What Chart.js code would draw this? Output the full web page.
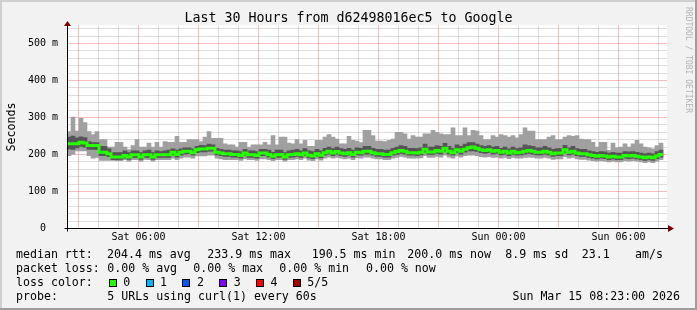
<!DOCTYPE html>
<html>
<head>
<meta charset="utf-8">
<script src="https://cdn.jsdelivr.net/npm/chart.js@4.4.1/dist/chart.umd.min.js"></script>
<style>
  html, body { margin: 0; padding: 0; background: #f2f2f2; }
  #wrap { position: relative; width: 697px; height: 310px; overflow: hidden;
          font-family: "DejaVu Sans Mono", monospace; color: #000; }
  #wrap canvas { position: absolute; left: 0; top: 0; }
  .t { position: absolute; white-space: pre; font-size: 11.6px; line-height: 14px; }
  #title { position: absolute; left: 0; top: 10.4px; width: 697px; text-align: center;
           font-size: 13.3px; line-height: 16px; white-space: pre; }
  #ytitle { position: absolute; left: -39.5px; top: 119.5px; width: 100px; height: 14px;
            line-height: 14px; font-size: 11.6px; text-align: center; transform: rotate(-90deg); }
  #mark { position: absolute; left: 638px; top: 52px; width: 100px; height: 10px;
          line-height: 10px; font-size: 8px; text-align: center; color: #b4b4b4;
          transform: rotate(90deg); white-space: pre; }
  .box { position: absolute; top: 279px; width: 8px; height: 8px; box-sizing: border-box;
         border: 1px solid #000; }
</style>
</head>
<body>
<div id="wrap">
  <canvas id="rtt" width="697" height="310"></canvas>
  <div id="title">Last 30 Hours from d62498016ec5 to Google</div>
  <div id="ytitle">Seconds</div>
  <div id="mark">RRDTOOL / TOBI OETIKER</div>

  <div class="t" style="left:16px;top:246.5px">median rtt:</div>
  <div class="t" style="left:107px;top:246.5px">204.4 ms avg</div>
  <div class="t" style="left:207.3px;top:246.5px">233.9 ms max</div>
  <div class="t" style="left:311.7px;top:246.5px">190.5 ms min</div>
  <div class="t" style="left:407.3px;top:246.5px">200.0 ms now</div>
  <div class="t" style="left:505.3px;top:246.5px">8.9 ms sd</div>
  <div class="t" style="left:581.7px;top:246.5px">23.1</div>
  <div class="t" style="left:635px;top:246.5px">am/s</div>

  <div class="t" style="left:16px;top:260.8px">packet loss:</div>
  <div class="t" style="left:107.3px;top:260.8px">0.00 % avg</div>
  <div class="t" style="left:193.3px;top:260.8px">0.00 % max</div>
  <div class="t" style="left:279.3px;top:260.8px">0.00 % min</div>
  <div class="t" style="left:366px;top:260.8px">0.00 % now</div>

  <div class="t" style="left:16px;top:275.1px">loss color:</div>
  <div id="losslegend"></div>

  <div class="t" style="left:16px;top:289.4px">probe:</div>
  <div class="t" style="left:107.3px;top:289.4px">5 URLs using curl(1) every 60s</div>
  <div class="t" style="right:17px;top:289.4px">Sun Mar 15 08:23:00 2026</div>
</div>

<script>
// ---- data: 12 minute buckets, minutes counted from Sat 00:00 ----
const firstBucket = 145.5;
const bucketMinutes = 12;
const windowMinutes = 1800;

// smoke: lowest ping, 2nd ping, median, 4th ping, highest ping (ms)
const rttMin = [
  197,201,210,210,210,197,190,192,184,184,184,184,183,183,186,182,186,186,182,187,186,182,186,186,186,
  186,190,186,190,193,193,190,196,196,196,198,198,190,188,186,186,186,186,184,188,186,186,184,188,188,
  186,183,186,186,182,186,186,188,186,190,185,183,188,185,190,193,190,192,190,188,190,186,191,190,193,
  193,190,188,188,186,186,190,192,195,193,190,190,190,191,197,192,192,195,193,198,193,190,196,193,197,
  198,198,197,194,193,194,192,193,190,192,189,192,190,190,192,193,192,190,190,192,190,187,188,188,194,
  190,192,188,187,187,185,183,182,183,182,180,182,180,180,183,182,183,182,180,178,180,178,182,186
];
const rttLow = [
  215,214,218,222,220,214,214,213,197,197,194,186,186,187,190,187,192,192,187,192,192,187,192,192,192,
  192,198,193,198,201,202,198,205,207,207,209,209,199,197,195,195,193,193,190,197,192,192,190,197,197,
  193,189,192,193,187,192,193,195,192,197,191,189,195,191,198,201,197,200,197,195,198,193,199,198,201,
  201,198,195,195,193,193,198,200,203,201,198,198,197,199,206,200,200,203,201,209,201,198,205,201,206,
  210,210,208,205,203,205,201,203,199,201,197,201,198,199,201,203,201,199,199,201,199,195,197,197,205,
  199,201,197,195,195,192,190,188,190,189,186,188,186,186,190,189,190,188,186,184,186,184,189,193
];
const rttMedian = [
  229,229,229,233,231,224,224,224,206,206,202,193,193,193,197,193,199,199,193,199,199,193,199,199,199,
  199,206,200,206,209,209,205,213,215,215,217,217,206,204,202,202,200,200,197,204,199,199,197,204,204,
  200,195,199,200,193,199,200,202,199,204,198,196,202,198,205,209,204,208,204,202,205,200,206,205,209,
  209,205,202,202,200,200,205,208,211,209,205,205,204,206,214,207,207,211,209,217,209,205,213,209,214,
  218,220,217,213,211,213,209,211,206,209,204,209,205,206,209,211,209,206,206,209,206,202,204,204,213,
  206,209,204,202,202,199,197,195,197,196,193,195,193,193,197,196,197,195,193,191,193,191,196,200
];
const rttHigh = [
  247,250,245,248,246,235,232,232,222,222,215,205,205,205,210,205,210,210,205,210,212,205,210,208,210,
  212,215,212,215,218,218,215,222,225,224,228,226,217,214,212,212,210,210,208,214,210,210,208,214,214,
  212,206,212,212,205,210,212,214,210,216,210,208,214,210,217,220,216,220,216,214,217,212,218,217,222,
  222,217,214,214,212,212,217,220,224,222,217,217,216,218,228,220,220,224,222,230,222,217,226,222,228,
  232,232,228,224,222,224,220,222,217,220,215,220,216,218,226,224,222,218,218,222,218,214,216,216,225,
  218,222,216,214,214,210,208,206,208,207,204,206,204,204,208,207,208,206,204,202,204,202,208,212
];
const rttMax = [
  262,301,263,298,286,262,254,262,240,240,220,220,233,233,220,213,224,240,220,220,231,220,233,220,235,
  233,233,249,233,233,240,240,240,235,247,262,244,244,244,229,226,226,220,233,233,220,226,226,226,233,
  226,251,226,247,247,231,229,240,229,238,222,222,238,238,247,254,247,242,229,229,249,238,236,232,265,
  265,251,236,236,235,238,242,260,260,256,242,251,247,247,256,256,265,260,256,254,254,272,251,251,272,
  251,265,263,251,240,240,251,247,254,251,247,251,245,254,272,263,263,240,240,240,247,251,240,240,247,
  251,249,251,242,240,240,233,220,233,233,211,231,218,220,229,220,229,238,229,220,218,215,224,231
];

const lossLabels = ['0', '1', '2', '3', '4', '5/5'];
const lossColors = ['#26ff00', '#00b8ff', '#0059ff', '#7e00ff', '#ff0000', '#a10000'];
const days = ['Sat', 'Sun'];

// ---- loss colour legend ----
const lossBox = document.getElementById('losslegend');
lossLabels.forEach((lab, i) => {
    const x = 108.7 + i * 36.8;
    const b = document.createElement('div');
    b.className = 'box';
    b.style.left = x + 'px';
    b.style.background = lossColors[i];
    lossBox.appendChild(b);
    const t = document.createElement('div');
    t.className = 't';
    t.style.left = (x + 14.6) + 'px';
    t.style.top = '275.1px';
    t.textContent = lab;
    lossBox.appendChild(t);
});

// ---- chart ----
const bucketStart = i => firstBucket + i * bucketMinutes;
const smokeOuter = rttMin.map((v, i) => ({ x: bucketStart(i) + bucketMinutes / 2, y: [v, rttMax[i]] }));
const smokeInner = rttLow.map((v, i) => ({ x: bucketStart(i) + bucketMinutes / 2, y: [v, rttHigh[i]] }));
const medianLine = rttMedian.map((v, i) => ({ x: bucketStart(i), y: v }));
medianLine.push({ x: bucketStart(rttMedian.length), y: rttMedian[rttMedian.length - 1] });

const minorGrid = 'rgba(143,143,143,0.6)';
const majorGrid = '#f07a7a';
const monoFont = { family: '"DejaVu Sans Mono", monospace', size: 10 };

// rrd style background, dotted grid and axes with arrows
const rrdFrame = {
    id: 'rrdFrame',
    beforeDraw(chart) {
        const { ctx, chartArea: a, width, height } = chart;
        ctx.save();
        ctx.fillStyle = '#f2f2f2';
        ctx.fillRect(0, 0, width, height);
        ctx.fillStyle = '#ffffff';
        ctx.fillRect(a.left, a.top, a.right - a.left, a.bottom - a.top);
        ctx.fillStyle = '#cfcfcf';
        ctx.fillRect(0, 0, width, 2);
        ctx.fillRect(0, 0, 2, height);
        ctx.fillStyle = '#9e9e9e';
        ctx.fillRect(0, height - 2, width, 2);
        ctx.fillRect(width - 2, 0, 2, height);
        ctx.restore();
    },
    beforeDatasetsDraw(chart) {
        const { ctx, chartArea: a, scales: { x, y } } = chart;
        const line = (x1, y1, x2, y2, col) => {
            ctx.strokeStyle = col;
            ctx.beginPath();
            ctx.moveTo(x1, y1);
            ctx.lineTo(x2, y2);
            ctx.stroke();
        };
        ctx.save();
        ctx.lineWidth = 1;
        ctx.setLineDash([1, 1]);
        // minor first, major on top
        [false, true].forEach(major => {
            x.ticks.forEach(t => {
                if ((t.value % 180 === 0) !== major) return;
                const px = Math.floor(x.getPixelForValue(t.value)) + 0.5;
                line(px, a.bottom, px, a.top, major ? majorGrid : minorGrid);
            });
            y.ticks.forEach(t => {
                if (t.value === 0 || (t.value % 100 === 0) !== major) return;
                const py = Math.floor(y.getPixelForValue(t.value)) + 0.5;
                line(a.left + 0.5, py, a.right, py, major ? majorGrid : minorGrid);
            });
        });
        ctx.restore();
    },
    afterDraw(chart) {
        const { ctx, chartArea: a } = chart;
        const xa = Math.round(a.left) + 0.5;
        const ya = Math.round(a.bottom - 0.5) + 0.5;
        ctx.save();
        ctx.strokeStyle = '#000';
        ctx.lineWidth = 1;
        ctx.beginPath();
        ctx.moveTo(xa - 3, ya);
        ctx.lineTo(a.right + 2, ya);
        ctx.moveTo(xa, ya + 3);
        ctx.lineTo(xa, a.top - 1);
        ctx.stroke();
        ctx.fillStyle = '#800000';
        ctx.beginPath();
        ctx.moveTo(a.right + 1, ya - 3.5);
        ctx.lineTo(a.right + 7, ya);
        ctx.lineTo(a.right + 1, ya + 3.5);
        ctx.closePath();
        ctx.fill();
        ctx.beginPath();
        ctx.moveTo(xa - 3.5, a.top + 1);
        ctx.lineTo(xa, a.top - 4);
        ctx.lineTo(xa + 3.5, a.top + 1);
        ctx.closePath();
        ctx.fill();
        ctx.restore();
    }
};

new Chart(document.getElementById('rtt'), {
    type: 'bar',
    data: {
        datasets: [
            {
                type: 'line',
                data: medianLine,
                borderColor: lossColors[0],
                borderWidth: 3,
                stepped: true,
                pointRadius: 0,
                borderCapStyle: 'butt',
                borderJoinStyle: 'miter',
                order: 0
            },
            {
                data: smokeInner,
                backgroundColor: '#555555',
                borderWidth: 0,
                barThickness: 4,
                grouped: false,
                order: 1
            },
            {
                data: smokeOuter,
                backgroundColor: '#a0a0a0',
                borderWidth: 0,
                barThickness: 4,
                grouped: false,
                order: 2
            }
        ]
    },
    options: {
        responsive: false,
        animation: false,
        events: [],
        layout: { padding: { top: 25, right: 30, left: 0, bottom: 0 } },
        plugins: { legend: { display: false }, tooltip: { enabled: false } },
        scales: {
            x: {
                type: 'linear',
                min: firstBucket,
                max: firstBucket + windowMinutes,
                offset: false,
                afterBuildTicks: s => {
                    const ticks = [];
                    for (let m = 180; m < firstBucket + windowMinutes; m += 60) ticks.push({ value: m });
                    s.ticks = ticks;
                },
                afterFit: s => { s.height = 81.5; },
                ticks: {
                    autoSkip: false,
                    maxRotation: 0,
                    padding: 3,
                    color: '#000',
                    font: monoFont,
                    callback: v => {
                        if (v % 360 !== 0) return '';
                        const h = (v % 1440) / 60;
                        return days[Math.floor(v / 1440)] + ' ' + String(h).padStart(2, '0') + ':00';
                    }
                },
                grid: { display: false, offset: false, drawTicks: false },
                border: { display: false }
            },
            y: {
                min: 0,
                max: 550,
                afterBuildTicks: s => {
                    const ticks = [];
                    for (let v = 0; v <= 540; v += 20) ticks.push({ value: v });
                    s.ticks = ticks;
                },
                afterFit: s => { s.width = 67; },
                ticks: {
                    autoSkip: false,
                    padding: 9,
                    color: '#000',
                    font: monoFont,
                    callback: v => v % 100 !== 0 ? '' : (v === 0 ? '0  ' : v + ' m')
                },
                grid: { display: false, drawTicks: false },
                border: { display: false }
            }
        }
    },
    plugins: [rrdFrame]
});
</script>
</body>
</html>
